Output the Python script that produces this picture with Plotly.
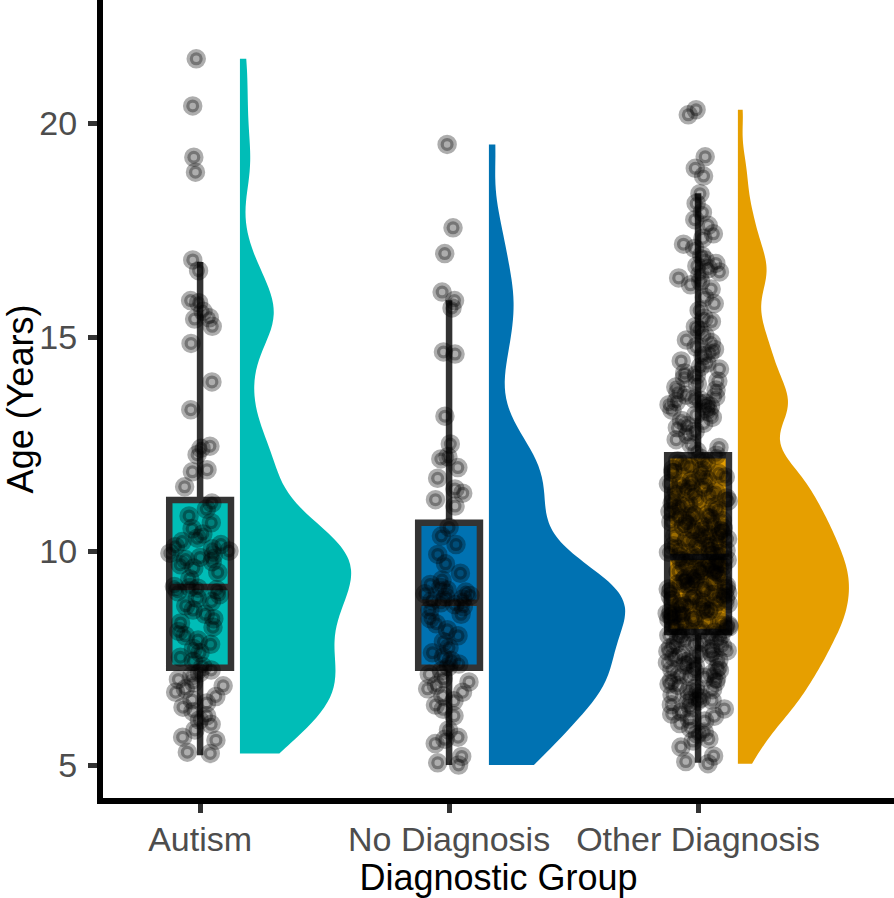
import numpy as np
import plotly.graph_objects as go

# ---------------- data ----------------
categories = ["Autism", "No Diagnosis", "Other Diagnosis"]
colors = ["#00BDB7", "#0072B2", "#E69F00"]

autism_ages = [
    21.5, 20.4, 19.2, 18.85, 16.8, 16.55, 15.85, 15.8, 15.6, 15.45, 15.42, 15.25,
    14.85, 13.95, 13.3, 12.45, 12.4, 12.25, 11.9, 11.85, 11.5,
    7.3, 7.42, 7.52, 7.62, 7.72, 7.82, 7.92, 8.02, 8.12, 8.22, 8.32, 8.42, 8.52,
    8.62, 8.72, 8.82, 8.9, 8.98, 9.05, 9.1, 9.13, 9.15, 9.17, 9.35, 9.5, 9.6,
    9.68, 9.75, 9.8, 9.85, 9.9, 9.95, 10.0, 10.05, 10.1, 10.15, 10.22, 10.3,
    10.4, 10.52, 10.66, 10.82, 10.98, 11.12,
    7.22, 7.15, 7.08, 7.0, 6.92, 6.85, 6.78, 6.7, 6.6, 6.52, 6.45, 6.35, 6.25,
    6.15, 6.05, 5.95, 5.82, 5.65, 5.58, 5.3, 5.27,
]

nodiag_ages = [
    19.5, 17.55, 16.95, 16.05, 15.85, 15.68, 14.65, 14.6, 13.15, 12.5, 12.2,
    12.15, 11.95, 11.7, 11.45, 11.35, 11.2, 11.05,
    7.3, 7.36, 7.44, 7.52, 7.62, 7.74, 7.88, 8.02, 8.16, 8.3, 8.42, 8.52, 8.62,
    8.7, 8.75, 8.79, 8.84, 8.88, 8.92, 8.96, 9.0, 9.04, 9.09, 9.15, 9.22, 9.32,
    9.48, 9.7, 9.92, 10.15, 10.35, 10.55,
    7.2, 7.12, 7.02, 6.94, 6.86, 6.78, 6.7, 6.62, 6.5, 6.4, 6.3, 6.15, 5.82,
    5.65, 5.6, 5.5, 5.2, 5.05, 5.0,
]

other_ages = [
    5.03, 5.08, 5.21, 5.42,
    5.56, 5.61, 5.72, 5.77, 5.86, 5.97,
    6.03, 6.07, 6.14, 6.19, 6.24, 6.31, 6.33, 6.41, 6.44, 6.49,
    6.51, 6.56, 6.58, 6.64, 6.67, 6.73, 6.76, 6.79, 6.86, 6.89, 6.93, 6.98,
    7.02, 7.05, 7.07, 7.11, 7.13, 7.18, 7.21, 7.23, 7.28, 7.31, 7.33, 7.39, 7.42, 7.45, 7.47,
    7.52, 7.54, 7.57, 7.59, 7.63, 7.66, 7.67, 7.72, 7.74, 7.78, 7.81, 7.82, 7.87, 7.9, 7.91, 7.96, 7.99,
    8.02, 8.03, 8.07, 8.1, 8.11, 8.15, 8.18, 8.19, 8.23, 8.26, 8.27, 8.31, 8.34, 8.35, 8.38, 8.41, 8.45, 8.47, 8.49,
    8.5, 8.54, 8.55, 8.59, 8.6, 8.64, 8.65, 8.69, 8.7, 8.74, 8.77, 8.78, 8.81, 8.82, 8.85, 8.89, 8.9, 8.94, 8.95, 8.99,
    9.0, 9.02, 9.06, 9.07, 9.11, 9.13, 9.14, 9.18, 9.19, 9.23, 9.24, 9.28, 9.29, 9.33, 9.35, 9.36, 9.41, 9.43, 9.45, 9.46, 9.5,
    9.52, 9.54, 9.55, 9.59, 9.62, 9.64, 9.65, 9.69, 9.72, 9.74, 9.77, 9.79, 9.8, 9.84, 9.87, 9.89, 9.9, 9.94, 9.97, 9.99,
    10.01, 10.04, 10.07, 10.11, 10.12, 10.17, 10.18, 10.23, 10.24, 10.28, 10.31, 10.34, 10.35, 10.4, 10.41, 10.45, 10.48, 10.5,
    10.53, 10.56, 10.57, 10.62, 10.63, 10.68, 10.71, 10.72, 10.77, 10.8, 10.83, 10.86, 10.87, 10.92, 10.95, 10.98,
    11.03, 11.05, 11.1, 11.12, 11.17, 11.19, 11.24, 11.26, 11.31, 11.33, 11.38, 11.4, 11.45, 11.49,
    11.53, 11.57, 11.59, 11.65, 11.67, 11.73, 11.75, 11.81, 11.83, 11.89, 11.91, 11.97,
    12.02, 12.06, 12.11, 12.17, 12.24, 12.33, 12.42, 12.49,
    12.6, 12.72, 12.8, 12.88, 12.93, 12.98,
    13.05, 13.12, 13.18, 13.24, 13.29, 13.33, 13.38, 13.42, 13.45, 13.49,
    13.52, 13.55, 13.6, 13.64, 13.7, 13.76, 13.83, 13.9, 13.97,
    14.05, 14.11, 14.16, 14.25, 14.3, 14.39, 14.44,
    14.56, 14.62, 14.71, 14.77, 14.87, 14.93,
    15.04, 15.16, 15.24, 15.36, 15.44,
    15.62, 15.78, 15.93,
    16.12, 16.22, 16.3, 16.38, 16.46,
    16.52, 16.6, 16.66, 16.72, 16.8, 16.9,
    17.07, 17.17, 17.31, 17.41,
    17.61, 17.74, 17.91,
    18.12, 18.35,
    18.76, 18.94,
    19.21,
    20.19, 20.31,
]

# box statistics
box_q1 = [7.27, 7.27, 8.11]
box_median = [9.16, 8.79, 9.86]
box_q3 = [11.19, 10.66, 12.24]
box_lower = [5.23, 5.0, 5.05]
box_upper = [16.75, 15.86, 18.36]

y_ticks = [5, 10, 15, 20]

groups = [autism_ages, nodiag_ages, other_ages]

# ---------------- figure ----------------
FONT = "Liberation Sans, Arial, Helvetica, sans-serif"
BOX_W = 0.248
VIOLIN_OFFSET = 0.16
violin_widths = [0.446, 0.546, 0.446]
bw_adjust = [0.7, 0.7, 0.5]


def nrd0(v):
    a = np.asarray(v, dtype=float)
    sd = a.std(ddof=1)
    q75, q25 = np.percentile(a, [75, 25])
    lo = min(sd, (q75 - q25) / 1.34)
    return 0.9 * lo * len(a) ** -0.2


fig = go.Figure()

for i, (cat, col, vals) in enumerate(zip(categories, colors, groups)):
    # half violin (raincloud)
    fig.add_trace(go.Violin(
        y=vals, x0=i + VIOLIN_OFFSET, side="positive",
        width=2 * violin_widths[i], scalemode="width",
        spanmode="hard", bandwidth=nrd0(vals) * bw_adjust[i],
        points=False, box_visible=False, meanline_visible=False,
        fillcolor=col, line=dict(width=0, color=col), opacity=1,
        showlegend=False, hoverinfo="skip", name=cat,
    ))
    # box from summary statistics
    fig.add_trace(go.Box(
        x=[i], q1=[box_q1[i]], median=[box_median[i]], q3=[box_q3[i]],
        lowerfence=[box_lower[i]], upperfence=[box_upper[i]],
        orientation="v", width=BOX_W, whiskerwidth=0,
        fillcolor=col, line=dict(color="#333333", width=6.5),
        boxpoints=False, showlegend=False, hoverinfo="skip", name=cat,
    ))
    # jittered raw points
    fig.add_trace(go.Box(
        y=vals, x0=i, width=0.25, boxpoints="all", jitter=1, pointpos=0,
        fillcolor="rgba(0,0,0,0)", line=dict(width=0, color="rgba(0,0,0,0)"),
        marker=dict(size=13, color="rgba(0,0,0,0.32)",
                    line=dict(color="rgba(0,0,0,0.32)", width=6.5)),
        showlegend=False, hoverinfo="skip", name=cat,
    ))

fig.update_layout(
    width=894, height=898,
    margin=dict(l=103, r=0, t=0, b=100),
    paper_bgcolor="white", plot_bgcolor="white",
    boxmode="overlay", violinmode="overlay",
    showlegend=False,
    font=dict(family=FONT),
    xaxis=dict(
        range=[-0.39, 2.787], tickvals=[0, 1, 2], ticktext=categories,
        showline=True, linecolor="black", linewidth=6,
        ticks="outside", ticklen=9, tickwidth=5, tickcolor="#333333",
        tickfont=dict(size=34, color="#4D4D4D", family=FONT),
        ticklabelstandoff=-3,
        showgrid=False, zeroline=False,
        title=dict(text="Diagnostic Group", font=dict(size=36, color="black", family=FONT), standoff=11),
    ),
    yaxis=dict(
        range=[4.229, 22.874], tickvals=y_ticks,
        showline=True, linecolor="black", linewidth=6,
        ticks="outside", ticklen=9, tickwidth=5, tickcolor="#333333",
        tickfont=dict(size=34, color="#4D4D4D", family=FONT),
        ticklabelstandoff=4,
        showgrid=False, zeroline=False,
        title=dict(text="Age (Years)", font=dict(size=36, color="black", family=FONT), standoff=14),
    ),
)

fig.write_html("out.html", config={"displayModeBar": False},
               post_script="document.body.style.margin='0px';")
